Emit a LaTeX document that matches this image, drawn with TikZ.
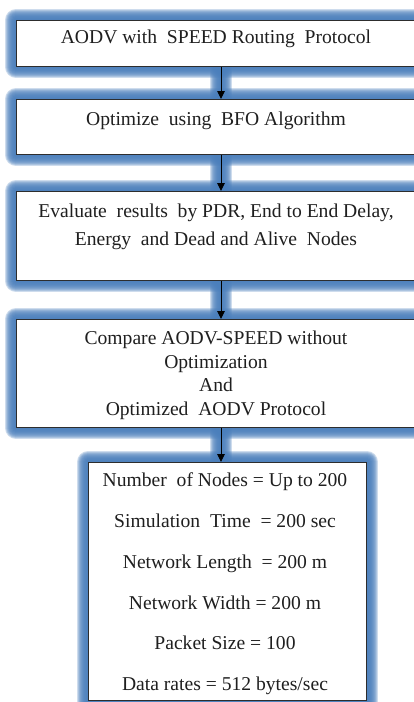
\documentclass[tikz,border=0pt]{standalone}
\usepackage{fontspec}
\setmainfont{Liberation Serif}
\usetikzlibrary{arrows.meta,backgrounds}

\definecolor{glowblue}{RGB}{74,126,187}
\definecolor{edgegray}{RGB}{45,45,45}

\tikzset{
  stepbox/.style={draw=edgegray, line width=1pt, fill=white, inner sep=0pt},
  txt/.style={anchor=base, inner sep=0pt, text=black!88,
              font=\fontsize{19.6}{22}\selectfont},
  flow/.style={draw=black, line width=0.9pt, -{Triangle[width=7.5pt,length=8pt]}},
  haze/.style={draw=glowblue, opacity=0.27, line join=round, line cap=butt},
}

% soft blue halo: stacked translucent strokes of growing width
\newcommand\halo[1]{%
  \foreach \k in {1,...,11}{\path[haze, line width=2*\k pt] #1;}}

\begin{document}
\begin{tikzpicture}[x=1pt, y=-1pt]
  \useasboundingbox (0,0) rectangle (414,702);
  \clip (0,0) rectangle (414,702);

  \coordinate (ax) at (221,0);

  % process boxes
  \node[stepbox, anchor=north west, minimum width=410pt, minimum height=46pt]  (b1) at (16,20)  {};
  \node[stepbox, anchor=north west, minimum width=410pt, minimum height=55pt]  (b2) at (16,99)  {};
  \node[stepbox, anchor=north west, minimum width=410pt, minimum height=89pt]  (b3) at (16,191) {};
  \node[stepbox, anchor=north west, minimum width=410pt, minimum height=108pt] (b4) at (16,319) {};
  \node[stepbox, anchor=north west, minimum width=278pt, minimum height=238pt] (b5) at (88,462) {};

  % halos behind boxes and connectors
  \begin{scope}[on background layer]
    \clip (0,0) rectangle (414,702);
    \foreach \b in {b1,b2,b3,b4,b5}{\halo{(\b.south west) rectangle (\b.north east)}}
    \halo{(b1.south -| ax) -- (b2.north -| ax)}
    \halo{(b2.south -| ax) -- (b3.north -| ax)}
    \halo{(b3.south -| ax) -- (b4.north -| ax)}
    \halo{(b4.south -| ax) -- (b5.north -| ax)}
  \end{scope}

  % connectors
  \draw[flow] (b1.south -| ax) -- (b2.north -| ax);
  \draw[flow] (b2.south -| ax) -- (b3.north -| ax);
  \draw[flow] (b3.south -| ax) -- (b4.north -| ax);
  \draw[flow] (b4.south -| ax) -- (b5.north -| ax);

  % box texts
  \node[txt] (t1)  at (216,43)  {AODV with\ \ SPEED Routing\ \ Protocol};
  \node[txt] (t2)  at (216,125) {Optimize\ \ using\ \ BFO Algorithm};
  \node[txt] (t3a) at (216,217) {Evaluate\ \ results\ \ by PDR, End to End Delay,};
  \node[txt] (t3b) at (216,245) {Energy\ \ and Dead and Alive\ \ Nodes};
  \node[txt] (t4a) at (216,344) {Compare AODV-SPEED without};
  \node[txt] (t4b) at (216,368) {Optimization};
  \node[txt] (t4c) at (216,391) {And};
  \node[txt] (t4d) at (216,415) {Optimized\ \ AODV Protocol};

  \node[txt] (p1) at (225,486) {Number\ \ of Nodes = Up to 200};
  \node[txt] (p2) at (225,527) {Simulation\ \ Time\ \ = 200 sec};
  \node[txt] (p3) at (225,568) {Network Length\ \ = 200 m};
  \node[txt] (p4) at (225,609) {Network Width = 200 m};
  \node[txt] (p5) at (225,649) {Packet Size = 100};
  \node[txt] (p6) at (225,690) {Data rates = 512 bytes/sec};
\end{tikzpicture}
\end{document}
